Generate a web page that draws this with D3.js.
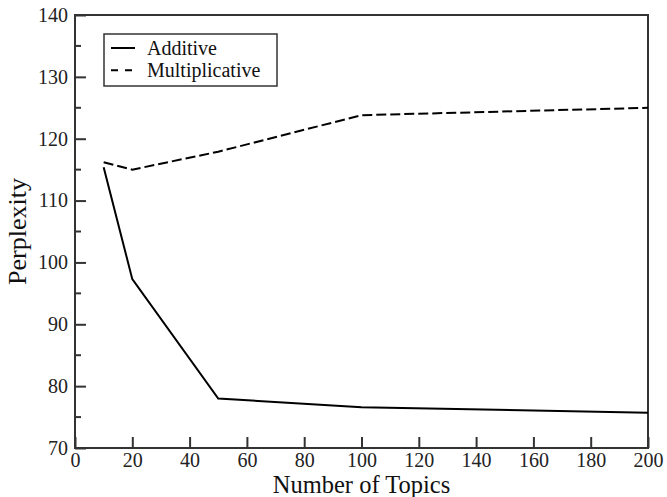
<!DOCTYPE html>
<html lang="en">
<head>
<meta charset="utf-8">
<title>Perplexity vs Number of Topics</title>
<script src="https://cdn.jsdelivr.net/npm/d3@7"></script>
<style>
  body { margin: 0; background: white; }
  svg { display: block; background: white; }
</style>
</head>
<body>
<svg id="chart"></svg>
<script>
// data
var topics = [10, 20, 50, 100, 200];
var additive = [115.4, 97.3, 78.0, 76.6, 75.7];
var multiplicative = [116.2, 115.0, 117.9, 123.8, 125.0];
var seriesNames = ["Additive", "Multiplicative"];
var xTicks = [0, 20, 40, 60, 80, 100, 120, 140, 160, 180, 200];
var yTicks = [70, 80, 90, 100, 110, 120, 130, 140];
var yMinor = [75, 85, 95, 105, 115, 125, 135];

var serif = "'Liberation Serif', 'Times New Roman', Times, serif";
var fullW = 667, fullH = 497;
var margin = {top: 15, right: 19, bottom: 49, left: 75};
var w = fullW - margin.left - margin.right;
var h = fullH - margin.top - margin.bottom;

var svg = d3.select("#chart").attr("width", fullW).attr("height", fullH);
var g = svg.append("g").attr("transform", "translate(" + margin.left + "," + margin.top + ")");

var x = d3.scaleLinear().domain([0, 200]).range([0, w]);
var y = d3.scaleLinear().domain([70, 140]).range([h, 0]);

var axisColor = "#333";

// frame
g.append("rect")
  .attr("x", 0).attr("y", 0).attr("width", w).attr("height", h)
  .attr("fill", "none").attr("stroke", axisColor).attr("stroke-width", 2);

// x axis, ticks pointing inwards
var xAxis = g.append("g")
  .attr("transform", "translate(0," + h + ")")
  .call(d3.axisBottom(x).tickValues(xTicks).tickSizeInner(-11).tickSizeOuter(0).tickPadding(5));
xAxis.select(".domain").remove();
xAxis.selectAll(".tick line").attr("stroke", axisColor).attr("stroke-width", 2);

// y axis
var yAxis = g.append("g")
  .call(d3.axisLeft(y).tickValues(yTicks).tickSizeInner(-11).tickSizeOuter(0).tickPadding(7));
yAxis.select(".domain").remove();
yAxis.selectAll(".tick line").attr("stroke", axisColor).attr("stroke-width", 2);

g.selectAll(".tick text")
  .style("font-family", serif)
  .style("font-size", "20px")
  .attr("fill", "#222");

g.append("g").selectAll("line")
  .data(yMinor)
  .enter().append("line")
  .attr("x1", 0).attr("x2", 6)
  .attr("y1", function(d) { return y(d); })
  .attr("y2", function(d) { return y(d); })
  .attr("stroke", axisColor).attr("stroke-width", 2);

// lines
var line = d3.line()
  .x(function(d) { return x(d[0]); })
  .y(function(d) { return y(d[1]); });

g.append("path")
  .datum(d3.zip(topics, additive))
  .attr("d", line)
  .attr("fill", "none").attr("stroke", "#000").attr("stroke-width", 2);

g.append("path")
  .datum(d3.zip(topics, multiplicative))
  .attr("d", line)
  .attr("fill", "none").attr("stroke", "#000").attr("stroke-width", 2)
  .attr("stroke-dasharray", "10,4");

// axis labels
svg.append("text")
  .attr("x", margin.left + w / 2)
  .attr("y", 493)
  .attr("text-anchor", "middle")
  .style("font-family", serif)
  .style("font-size", "24.5px")
  .attr("fill", "#111")
  .text("Number of Topics");

svg.append("text")
  .attr("transform", "translate(26," + (margin.top + h / 2) + ") rotate(-90)")
  .attr("text-anchor", "middle")
  .style("font-family", serif)
  .style("font-size", "26px")
  .attr("fill", "#111")
  .text("Perplexity");

// legend
var legend = svg.append("g").attr("transform", "translate(104,34)");
legend.append("rect")
  .attr("width", 173).attr("height", 52)
  .attr("fill", "white").attr("stroke", axisColor).attr("stroke-width", 1.5);

var dashes = [null, "7,7"];
var rows = legend.selectAll(".row")
  .data(seriesNames)
  .enter().append("g")
  .attr("class", "row")
  .attr("transform", function(d, i) { return "translate(0," + (14 + i * 22.3) + ")"; });

rows.append("line")
  .attr("x1", 7).attr("x2", 31)
  .attr("stroke", "#000").attr("stroke-width", 2)
  .attr("stroke-dasharray", function(d, i) { return dashes[i]; });

rows.append("text")
  .attr("x", 43)
  .attr("dy", "0.35em")
  .style("font-family", serif)
  .style("font-size", "20px")
  .attr("fill", "#111")
  .text(function(d) { return d; });
</script>
</body>
</html>
